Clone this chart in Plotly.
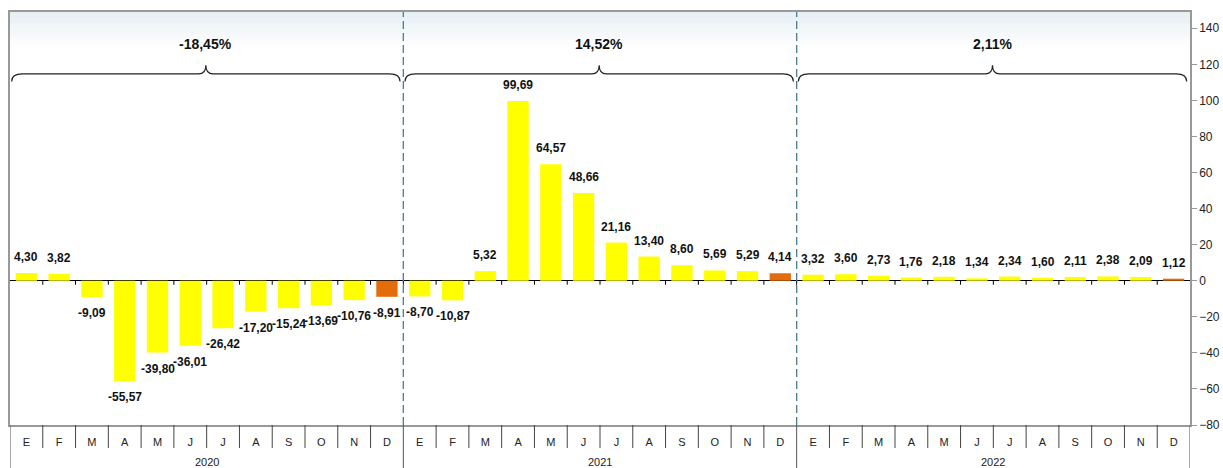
import plotly.graph_objects as go

years = ["2020", "2021", "2022"]
months = ["E", "F", "M", "A", "M", "J", "J", "A", "S", "O", "N", "D"]
values_2020 = [4.30, 3.82, -9.09, -55.57, -39.80, -36.01, -26.42, -17.20, -15.24, -13.69, -10.76, -8.91]
values_2021 = [-8.70, -10.87, 5.32, 99.69, 64.57, 48.66, 21.16, 13.40, 8.60, 5.69, 5.29, 4.14]
values_2022 = [3.32, 3.60, 2.73, 1.76, 2.18, 1.34, 2.34, 1.60, 2.11, 2.38, 2.09, 1.12]
year_changes = [-18.45, 14.52, 2.11]

values = values_2020 + values_2021 + values_2022
x = list(range(len(values)))
colors = ["#E46C0A" if i % 12 == 11 else "#FFFF00" for i in x]

SANS = "Liberation Sans, Arial, sans-serif"
PLOT_H = 468 - 12 - 43

fig = go.Figure()
fig.add_trace(go.Bar(x=x, y=values, marker=dict(color=colors, line_width=0),
                     width=0.65, showlegend=False, hoverinfo="y"))

# data labels, above positive bars and below negative ones
for xi, v in zip(x, values):
    fig.add_annotation(x=xi, y=v, text="<b>" + f"{v:.2f}".replace(".", ",") + "</b>",
                       showarrow=False,
                       yanchor="bottom" if v >= 0 else "top", yshift=7 if v >= 0 else -7,
                       font=dict(family=SANS, size=12, color="#111"))

shapes = []
# light gradient at the top of the plot area
n_bands = 14
for i in range(n_bands):
    shapes.append(dict(type="rect", xref="paper", yref="paper", layer="below",
                       x0=0, x1=1, y0=1 - (i + 1) * 0.006, y1=1 - i * 0.006,
                       fillcolor="#E6EFF5", opacity=1 - i / n_bands, line_width=0))

# small tick marks under the zero line between categories
for k in range(1, len(values)):
    shapes.append(dict(type="line", xref="x", yref="y", x0=k - 0.5, x1=k - 0.5,
                       ysizemode="pixel", yanchor=0, y0=0, y1=-4,
                       line=dict(color="#000", width=1)))

# month separators in the label row
for k in range(1, len(values)):
    if k % 12 == 0:
        continue
    shapes.append(dict(type="line", xref="x", yref="paper", x0=k - 0.5, x1=k - 0.5,
                       y0=0, y1=-23 / PLOT_H, line=dict(color="#444", width=1)))

# year separators / borders reaching the bottom
for k in range(0, len(values) + 1, 12):
    shapes.append(dict(type="line", xref="x", yref="paper", x0=k - 0.5, x1=k - 0.5,
                       y0=0, y1=-45 / PLOT_H, line=dict(color="#555", width=1)))

# dashed dividers between years
for k in (12, 24):
    shapes.append(dict(type="line", xref="x", yref="paper", x0=k - 0.5, x1=k - 0.5,
                       y0=0, y1=1, line=dict(color="#4F7C8E", width=1.3, dash="8px,4px")))

# braces over each year with the yearly change
yb, ye, yt = 114.7, 110.5, 119.5
for g, chg in enumerate(year_changes):
    x0 = g * 12 - 0.45
    x1 = g * 12 + 11.4
    xc = (x0 + x1) / 2
    d = 0.32
    c = 0.22
    path = (f"M {x0},{ye} Q {x0},{yb} {x0 + d},{yb} L {xc - c},{yb} "
            f"Q {xc},{yb} {xc},{yt} Q {xc},{yb} {xc + c},{yb} "
            f"L {x1 - d},{yb} Q {x1},{yb} {x1},{ye}")
    shapes.append(dict(type="path", xref="x", yref="y", path=path,
                       line=dict(color="#222", width=1.2)))
    fig.add_annotation(x=xc, y=131.5, text=f"<b>{chg:.2f}%</b>".replace(".", ","),
                       showarrow=False, font=dict(family=SANS, size=14, color="#111"))

for g, yr in enumerate(years):
    fig.add_annotation(x=g * 12 + 5.5, y=-37 / PLOT_H, yref="paper", yanchor="middle",
                       text=yr, showarrow=False,
                       font=dict(family=SANS, size=11, color="#222"))

fig.update_layout(
    width=1223, height=468,
    margin=dict(l=10, r=33, t=12, b=43, autoexpand=False),
    paper_bgcolor="white", plot_bgcolor="white",
    bargap=0.35, shapes=shapes,
    xaxis=dict(range=[-0.5, len(values) - 0.5], tickvals=x, ticktext=months * 3,
               showgrid=False, zeroline=False, showline=True, linecolor="#999",
               linewidth=1.5, mirror=True, ticks="", ticklabelstandoff=6,
               automargin=False,
               tickfont=dict(family=SANS, size=11, color="#222")),
    yaxis=dict(side="right", range=[-80, 149], tickvals=list(range(-80, 141, 20)),
               showgrid=False, zeroline=True, zerolinecolor="#000", zerolinewidth=1.3,
               showline=True, linecolor="#999", linewidth=1.5, mirror=True,
               ticks="outside", ticklen=5, tickcolor="#999", automargin=False,
               tickfont=dict(family=SANS, size=12, color="#222")),
)

fig.write_html("out.html", config={"displayModeBar": False},
               post_script="document.body.style.margin='0';document.body.style.overflow='hidden';")
